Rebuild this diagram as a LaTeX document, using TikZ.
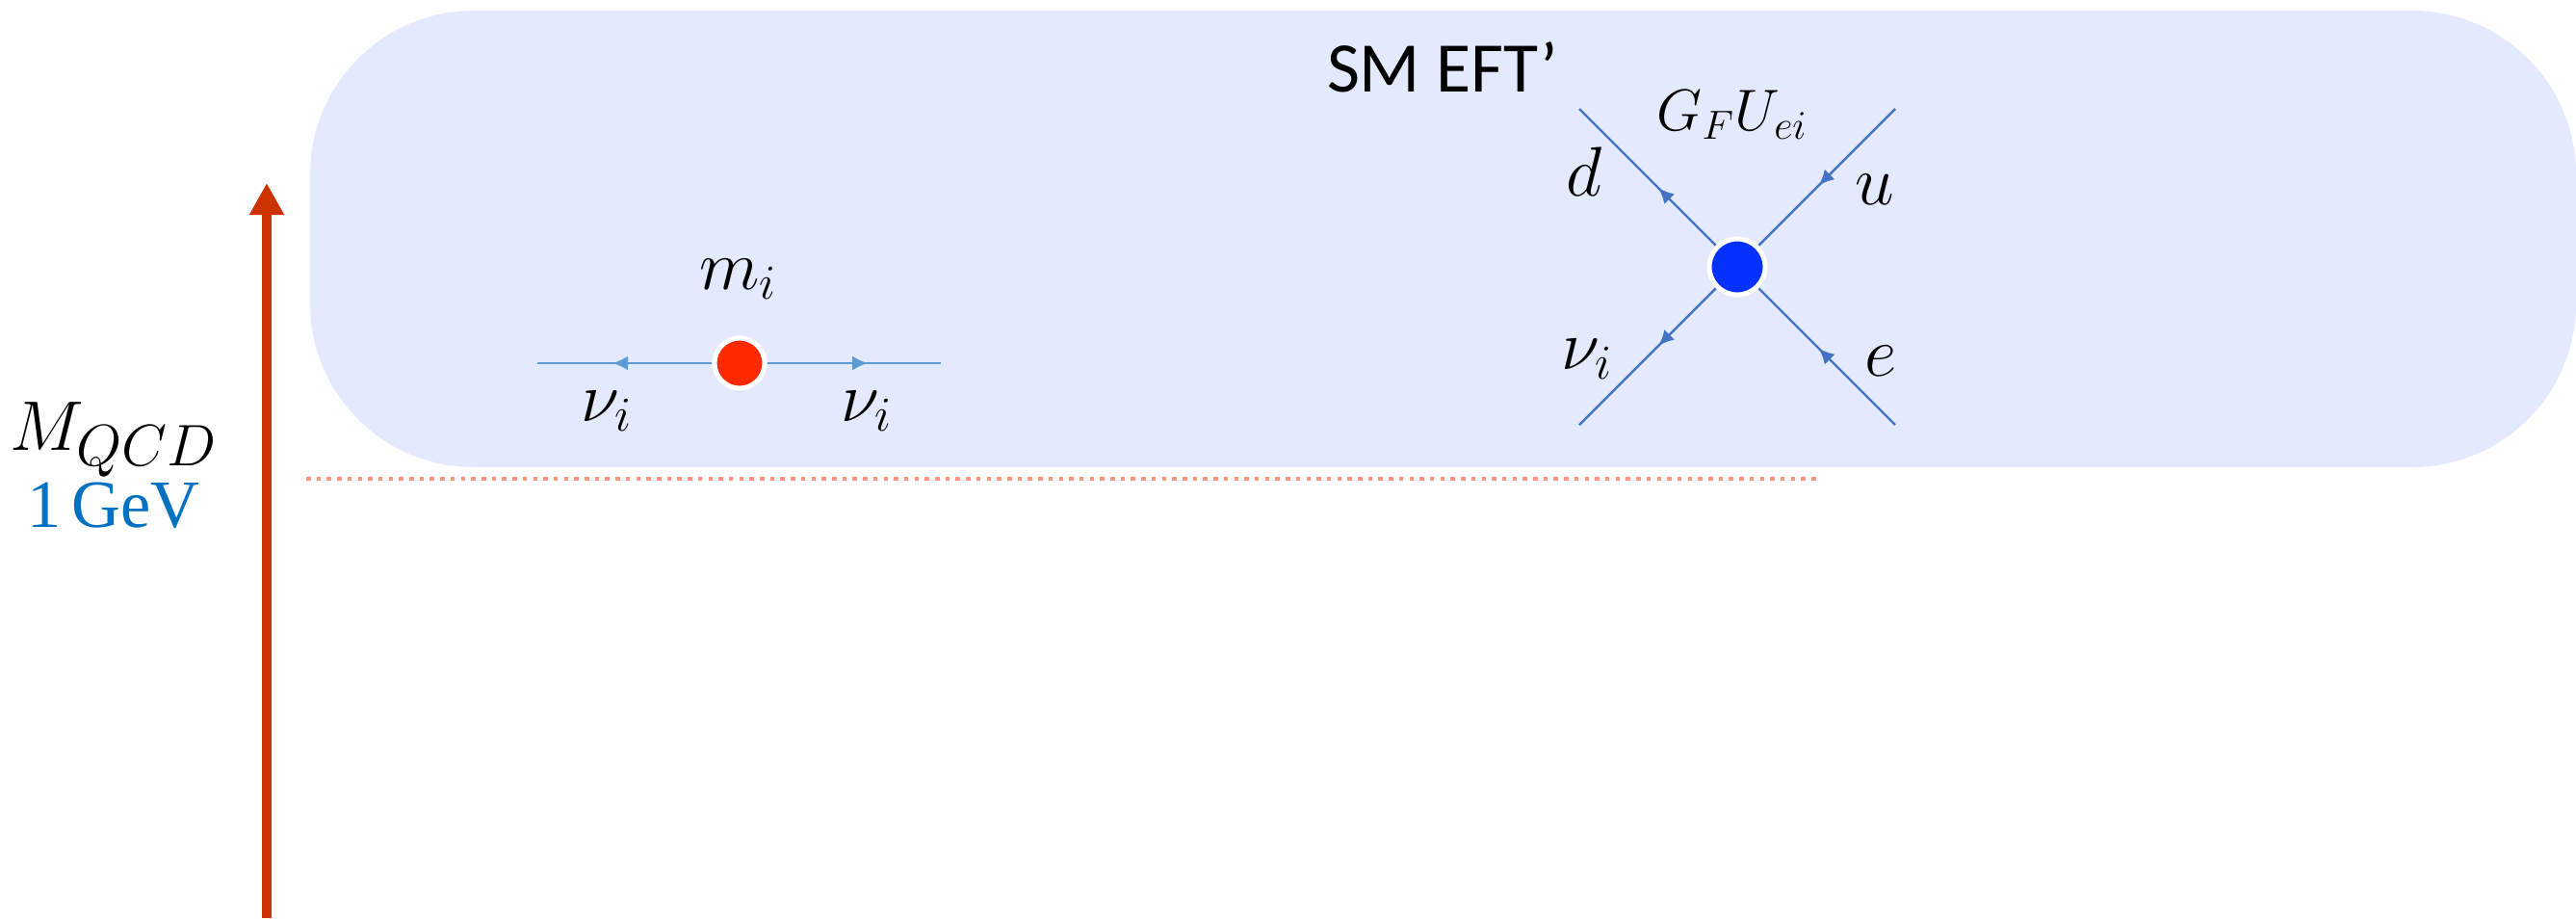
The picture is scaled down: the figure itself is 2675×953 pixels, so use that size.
\documentclass[tikz,border=0pt]{standalone}
\usepackage{fontspec}
\setmainfont{Carlito}
\newfontfamily\gevfont[WordSpace=0.6]{Liberation Serif}
\usetikzlibrary{arrows.meta,decorations.markings}
\definecolor{boxfill}{HTML}{E3EAFD}
\definecolor{scalered}{HTML}{CC3300}
\definecolor{dotred}{HTML}{FF9380}
\definecolor{gevblue}{HTML}{0070C0}
\definecolor{lineA}{HTML}{5B9BD5}
\definecolor{lineB}{HTML}{4472C4}
\definecolor{massdot}{HTML}{FF2A00}
\definecolor{vertdot}{HTML}{0531FF}
\tikzset{
  txt/.style={font=\fontsize{21}{25}\selectfont, inner sep=0pt},
  vtxt/.style={font=\fontsize{19.5}{23}\selectfont, inner sep=0pt},
  fermA/.style={draw=lineA, line width=0.7pt},
  fermB/.style={draw=lineB, line width=0.7pt},
  midarr/.style={postaction={decorate}, decoration={markings,
     mark=at position #1 with {\arrow{Latex[length=0.16cm,width=0.15cm]}}}},
  blob/.style={circle, draw=white, line width=0.05cm, inner sep=0pt},
  dotline/.style={draw=dotred, line width=0.04cm, dash pattern=on 0.45mm off 0.62mm}
}
\begin{document}
\begin{tikzpicture}[x=0.01cm, y=-0.01cm]
\useasboundingbox (0,0) rectangle (2675,953);
% EFT region
\fill[boxfill, rounded corners=1.7cm] (322,11) rectangle (2675,485);
% scale arrow
\coordinate (arrB) at (277,953);
\coordinate (arrT) at (277,190);
\draw[scalered, line width=0.1cm, -{Triangle[length=0.33cm,width=0.34cm]}] (arrB) -- (arrT);
% threshold line
\coordinate (dotL) at (318,497);
\coordinate (dotR) at (1888,497);
\draw[dotline] (dotL) -- (dotR);
% labels on the scale
\node[txt, anchor=base west] (mqcd) at (10,467) {$M_{\mbox{\fontsize{17}{20}\selectfont$QCD$}}$};
\node[txt, anchor=base, text=gevblue, font=\fontsize{20}{24}\selectfont\gevfont] (gev) at (118,547) {1 GeV};
\node[txt, anchor=base] (title) at (1498,95) {SM EFT’};
% mass insertion
\node[blob, fill=massdot, minimum size=0.52cm] (mass) at (768,377) {};
\coordinate (nuL) at (558,377);
\coordinate (nuR) at (977,377);
\draw[fermA, midarr=0.57] (mass) -- (nuL);
\draw[fermA, midarr=0.58] (mass) -- (nuR);
\node[txt, anchor=base] (mlab) at (767,300) {$m_i$};
\node[vtxt, anchor=base] (nulabL) at (630,437) {$\nu_i$};
\node[vtxt, anchor=base] (nulabR) at (900,437) {$\nu_i$};
% four-fermion vertex
\node[blob, fill=vertdot, minimum size=0.58cm] (vert) at (1804,277) {};
\coordinate (dEnd) at (1640,113);
\coordinate (uEnd) at (1968,113);
\coordinate (nuEnd) at (1640,441);
\coordinate (eEnd) at (1968,441);
\draw[fermB, midarr=0.42] (vert) -- (dEnd);
\draw[fermB, midarr=0.56] (uEnd) -- (vert);
\draw[fermB, midarr=0.42] (vert) -- (nuEnd);
\draw[fermB, midarr=0.56] (eEnd) -- (vert);
\node[vtxt, anchor=base, font=\fontsize{17.5}{21}\selectfont] (glab) at (1799,135) {$G_F U_{ei}$};
\node[vtxt, anchor=base] (dlab) at (1645,203) {$d$};
\node[vtxt, anchor=base] (ulab) at (1947,212) {$u$};
\node[vtxt, anchor=base] (nulab) at (1648,383) {$\nu_i$};
\node[vtxt, anchor=base] (elab) at (1953,390) {$e$};
\end{tikzpicture}
\end{document}
